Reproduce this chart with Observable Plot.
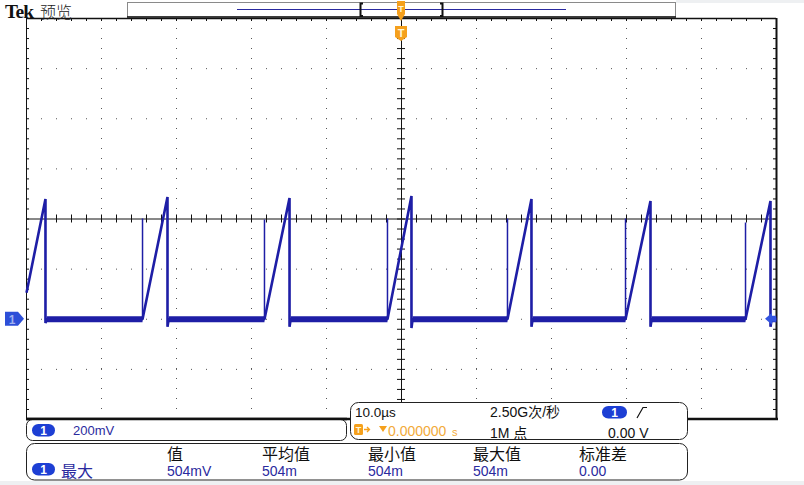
<!DOCTYPE html>
<html><head><meta charset="utf-8">
<script src="https://cdn.jsdelivr.net/npm/d3@7"></script>
<script src="https://cdn.jsdelivr.net/npm/@observablehq/plot@0.6"></script>
<style>
html,body{margin:0;padding:0;background:#fff;}
#wrap{position:relative;width:804px;height:485px;overflow:hidden;background:#fff;}
svg text{font-family:"Liberation Sans","Noto Sans CJK SC",sans-serif;}
</style></head><body><div id="wrap"></div>
<script>
const timePerDivUs = 10;          // 10.0 µs / div
const voltPerDivMv = 200;         // 200 mV / div
const xDomainUs = [-50, 50];
const yDomainMv = [-400, 1200];
const centerLevelMv = 400;

// sawtooth trace key points
const startMv = 106;                                       // value at left edge
const riseStartUs = [-34.53, -18.27, -1.87, 14.13, 29.87, 45.87];
const peakUs      = [-47.47, -31.2, -14.93, 1.33, 17.33, 33.2, 49.2];
const peakMv      = [480, 488, 484, 492, 480, 472, 472];
const spikeMv     = [400, 396, 400, 400, 400, 384];
const undershootMv= [-15, -30, -30, -35, -30, -30, -30];

// readouts
const chLabel = "1";
const scaleText = "200mV";
const timebaseText = "10.0µs";
const sampleRateText = "2.50G次/秒";
const recordText = "1M 点";
const trigPosText = "0.000000";
const trigUnit = "s";
const trigLevelText = "0.00 V";
const measureName = "最大";
const measureHeaders = ["值", "平均值", "最小值", "最大值", "标准差"];
const measureValues  = ["504mV", "504m", "504m", "504m", "0.00"];

// ---- build tables ----
const trace = [{t: xDomainUs[0], v: startMv}];
const lows = [];
const spikes = [];
peakUs.forEach((p, i) => {
  const next = i < riseStartUs.length ? riseStartUs[i] : xDomainUs[1];
  trace.push({t: p, v: peakMv[i]});
  trace.push({t: p, v: undershootMv[i]});
  trace.push({t: p + 0.15, v: 0});
  trace.push({t: next, v: 0});
  lows.push({seg: i, t: p + 0.15, v: 0}, {seg: i, t: next, v: 0});
  if (i < riseStartUs.length) spikes.push({t: next, v: spikeMv[i]});
});

const majorX = d3.range(xDomainUs[0], xDomainUs[1] + 0.01, timePerDivUs);
const minorX = d3.range(xDomainUs[0], xDomainUs[1] + 0.01, timePerDivUs / 5);
const majorY = d3.range(yDomainMv[0], yDomainMv[1] + 0.01, voltPerDivMv);
const minorY = d3.range(yDomainMv[0], yDomainMv[1] + 0.01, voltPerDivMv / 5);
const innerX = majorX.filter(d => d > xDomainUs[0] && d < xDomainUs[1] && d !== 0);
const innerY = majorY.filter(d => d > yDomainMv[0] && d < yDomainMv[1] && d !== centerLevelMv);

const traceColor = "#1e1ea6";
const W = 804, H = 485;
const pxX = (xDomainUs[1] - xDomainUs[0]) / 750;   // µs per px
const pxY = (yDomainMv[1] - yDomainMv[0]) / 401;   // mV per px

const chart = Plot.plot({
  width: W, height: H,
  marginLeft: 26, marginRight: 28, marginTop: 18, marginBottom: 66,
  x: {domain: xDomainUs, axis: null},
  y: {domain: yDomainMv, axis: null},
  style: {background: "transparent"},
  marks: [
    Plot.ruleX(innerX, {stroke: "#555", strokeDasharray: "1,9"}),
    Plot.ruleY(innerY, {stroke: "#555", strokeDasharray: "1,14"}),
    Plot.ruleX([0], {stroke: "#111"}),
    Plot.ruleY([centerLevelMv], {stroke: "#111"}),
    Plot.ruleX(minorX, {y1: centerLevelMv - 4 * pxY, y2: centerLevelMv + 4 * pxY, stroke: "#111"}),
    Plot.ruleY(minorY, {x1: -4 * pxX, x2: 4 * pxX, stroke: "#111"}),
    Plot.ruleX(minorX, {y1: yDomainMv[1], y2: yDomainMv[1] - 3 * pxY, stroke: "#111"}),
    Plot.ruleY(minorY, {x1: xDomainUs[0], x2: xDomainUs[0] + 3 * pxX, stroke: "#111"}),
    Plot.ruleY(minorY, {x1: xDomainUs[1], x2: xDomainUs[1] - 3 * pxX, stroke: "#111"}),
    Plot.ruleY([yDomainMv[1]], {stroke: "#111", strokeWidth: 1.5}),
    Plot.ruleX([xDomainUs[0]], {stroke: "#111", strokeWidth: 1}),
    Plot.ruleX([xDomainUs[1]], {stroke: "#111", strokeWidth: 2}),
    Plot.line(lows, {x: "t", y: "v", z: "seg", stroke: traceColor, strokeWidth: 6, strokeLinecap: "butt"}),
    Plot.ruleX(spikes, {x: "t", y1: 0, y2: "v", stroke: traceColor, strokeWidth: 1.5}),
    Plot.line(trace, {x: "t", y: "v", stroke: traceColor, strokeWidth: 2.6, strokeLinejoin: "miter", strokeLinecap: "butt"})
  ]
});
document.getElementById("wrap").appendChild(chart);

const sx = chart.scale("x"), sy = chart.scale("y");
const svg = d3.select(chart);
const x0 = sx.apply(0), yG = sy.apply(0), yBot = sy.apply(yDomainMv[0]);
const orange = "#f5a01c", pillBlue = "#1d3fd4", txtBlue = "#2a2a9e";

// edge strips
svg.append("rect").attr("x", 0).attr("y", 481).attr("width", W).attr("height", 4).attr("fill", "#eef0f2");
svg.append("rect").attr("x", 676).attr("y", 0).attr("width", W - 676).attr("height", 3).attr("fill", "#eef0f2");

// bottom thick border
svg.append("line").attr("x1", 26).attr("x2", 778).attr("y1", yBot).attr("y2", yBot)
  .attr("stroke", "#111").attr("stroke-width", 2.5);

// title
svg.append("text").attr("x", 5).attr("y", 17.5).attr("text-anchor", "start").attr("font-size", 19.5).attr("font-weight", "bold")
  .attr("letter-spacing", -0.8).style("font-family", "'Liberation Serif',serif").attr("fill", "#111").text("Tek");
svg.append("text").attr("x", 40).attr("y", 17.5).attr("text-anchor", "start").attr("font-size", 16)
  .style("font-family", "'Noto Sans CJK SC',sans-serif").attr("font-weight", 300).attr("fill", "#222").text("预览");

// record view box
svg.append("rect").attr("x", 127.5).attr("y", 2.5).attr("width", 548).attr("height", 14.5)
  .attr("fill", "#fff").attr("stroke", "#8a8a8a");
svg.append("line").attr("x1", 127).attr("x2", 676).attr("y1", 17).attr("y2", 17).attr("stroke", "#111").attr("stroke-width", 1.5);
svg.append("line").attr("x1", 237).attr("x2", 566).attr("y1", 9.5).attr("y2", 9.5).attr("stroke", "#2a2aa0");
svg.append("path").attr("d", "M363,3.5 h-2.5 v12.5 h2.5").attr("fill", "none").attr("stroke", "#111").attr("stroke-width", 2);
svg.append("path").attr("d", "M440,3.5 h2.5 v12.5 h-2.5").attr("fill", "none").attr("stroke", "#111").attr("stroke-width", 2);

// trigger markers
svg.append("path").attr("d", `M${x0-4},1 h8 v13 l-4,7 l-4,-7 z`).attr("fill", orange);
svg.append("text").attr("x", x0).attr("y", 12).attr("text-anchor", "middle").attr("font-size", 9)
  .attr("font-weight", "bold").attr("fill", "#fff6d8").text("T");
svg.append("path").attr("d", `M${x0-6},26 h12 v11 l-6,4 l-6,-4 z`).attr("fill", orange);
svg.append("text").attr("x", x0).attr("y", 37).attr("text-anchor", "middle").attr("font-size", 11)
  .attr("font-weight", "bold").attr("fill", "#fff6d8").text("T");

// ground marker (left) and right arrow
svg.append("path").attr("d", `M5,${yG-7} h13 l6,7 l-6,7 h-13 z`).attr("fill", "#2d4fd8");
svg.append("text").attr("x", 12).attr("y", yG + 5).attr("text-anchor", "middle").attr("font-size", 12)
  .attr("font-weight", "bold").attr("fill", "#9fb0f0").text(chLabel);
svg.append("path").attr("d", `M765,${yG} l7,-6 v3 h4 v6 h-4 v3 z`).attr("fill", "#3355e0");

function pill(x, y, w) {
  svg.append("rect").attr("x", x).attr("y", y).attr("width", w).attr("height", 12.5).attr("rx", 6.25).attr("fill", pillBlue);
  svg.append("text").attr("x", x + w / 2).attr("y", y + 11).attr("text-anchor", "middle").attr("font-size", 12)
    .attr("font-weight", "bold").attr("fill", "#fff").text(chLabel);
}
function txt(x, y, s, size, fill) {
  svg.append("text").attr("x", x).attr("y", y).attr("text-anchor", "start").attr("font-size", size).attr("fill", fill).text(s);
}

// panel 1: vertical scale
svg.append("rect").attr("x", 26.5).attr("y", 419.5).attr("width", 320).attr("height", 21).attr("rx", 6)
  .attr("fill", "#fff").attr("stroke", "#222");
svg.append("line").attr("x1", 26).attr("x2", 347).attr("y1", yBot).attr("y2", yBot).attr("stroke", "#111").attr("stroke-width", 2.5);
pill(32, 424, 23);
txt(73, 434.5, scaleText, 13, txtBlue);

// panel 2: horizontal / trigger
svg.append("rect").attr("x", 350.5).attr("y", 402.5).attr("width", 337).attr("height", 37).attr("rx", 8)
  .attr("fill", "#fff").attr("stroke", "#222");
txt(355, 416.5, timebaseText, 13.5, "#111");
txt(490, 416.5, sampleRateText, 14, "#111");
pill(602, 406, 25);
svg.append("path").attr("d", "M637,418 L643,407.5 h4").attr("fill", "none").attr("stroke", "#111").attr("stroke-width", 1.2);
svg.append("rect").attr("x", 354).attr("y", 424).attr("width", 9).attr("height", 11).attr("rx", 1.5).attr("fill", orange);
svg.append("text").attr("x", 358.5).attr("y", 433).attr("text-anchor", "middle").attr("font-size", 9)
  .attr("font-weight", "bold").attr("fill", "#fff6d8").text("T");
svg.append("path").attr("d", "M364,429.5 h5 M367,427 l2.5,2.5 l-2.5,2.5").attr("fill", "none").attr("stroke", orange).attr("stroke-width", 1.3);
svg.append("path").attr("d", "M379,426 h8 l-4,6 z").attr("fill", orange);
txt(388, 435.5, trigPosText, 14, "#f2aa3a");
txt(452, 435.5, trigUnit, 11, "#f2aa3a");
txt(490, 437.5, recordText, 14, "#111");
txt(608, 437.5, trigLevelText, 14, "#111");

// panel 3: measurements
svg.append("rect").attr("x", 26.5).attr("y", 443.5).attr("width", 661).attr("height", 36.5).attr("rx", 8)
  .attr("fill", "#fff").attr("stroke", "#222");
const colX = [167, 262, 368, 473, 579];
measureHeaders.forEach((h, i) => txt(colX[i], 460, h, 16, "#111"));
pill(32, 463, 23);
txt(61, 477, measureName, 16, txtBlue);
measureValues.forEach((v, i) => txt(colX[i], 475.5, v, 14, txtBlue));
</script></body></html>
